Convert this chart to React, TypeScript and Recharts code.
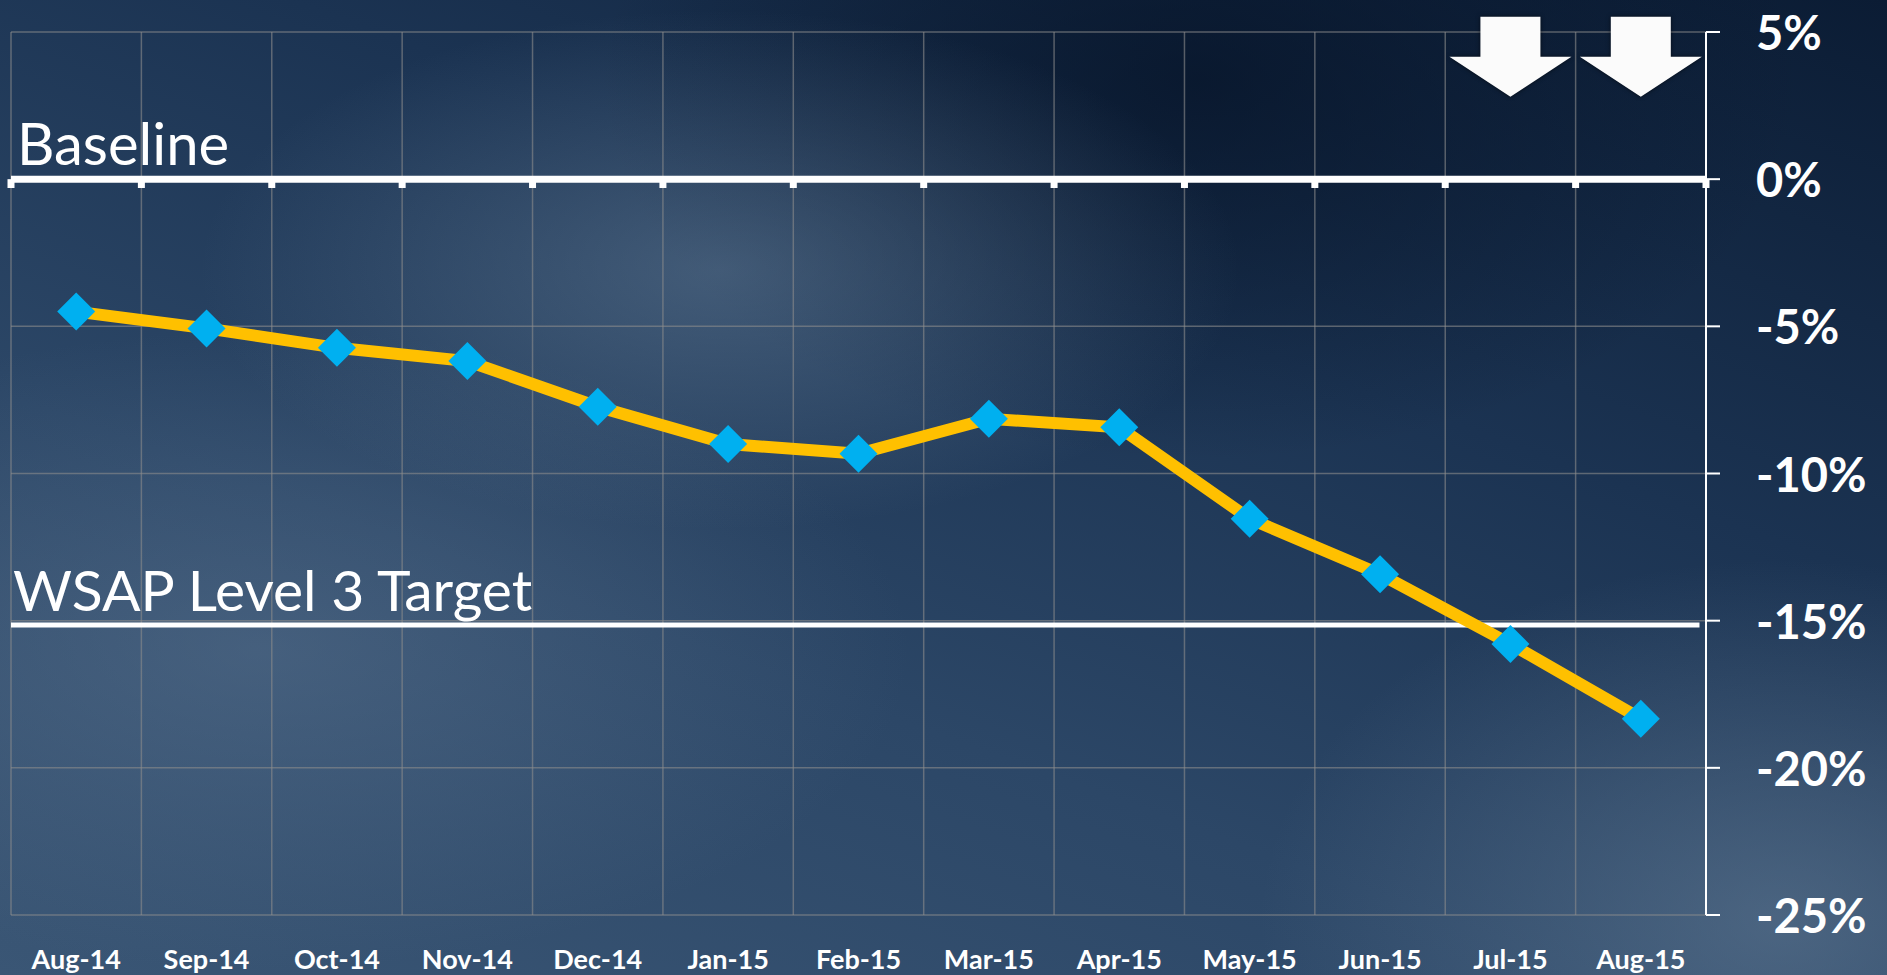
import { LineChart, Line, XAxis, YAxis, CartesianGrid, ReferenceLine, ReferenceDot } from "recharts";

const months = [
  "Aug-14", "Sep-14", "Oct-14", "Nov-14", "Dec-14", "Jan-15", "Feb-15",
  "Mar-15", "Apr-15", "May-15", "Jun-15", "Jul-15", "Aug-15",
];
const changePct = [-4.5, -5.07, -5.73, -6.18, -7.73, -9.0, -9.33, -8.14, -8.43, -11.54, -13.42, -15.79, -18.33];
const pctTicks = [-25, -20, -15, -10, -5, 0, 5];
const baselinePct = 0;
const targetPct = -15.15;
const arrowMonths = ["Jul-15", "Aug-15"];
const arrowTipPct = 2.8;

const data = months.map((m, i) => ({ idx: i, month: m, value: changePct[i] }));
const monthIdx = months.map((_, i) => i);
const boundaries = [...months.map((_, i) => i - 0.5), months.length - 0.5];

const FONT = "Lato, 'Open Sans', sans-serif";
const GRID = "rgba(140,140,140,0.6)";

function Diamond(props: any) {
  const { cx, cy, index } = props;
  if (cx == null || cy == null) return null;
  const r = 19;
  return (
    <polygon
      key={`d-${index}`}
      points={`${cx},${cy - r} ${cx + r},${cy} ${cx},${cy + r} ${cx - r},${cy}`}
      fill="#00B0F0"
    />
  );
}

function Arrow(props: any) {
  const { cx, cy } = props;
  if (cx == null || cy == null) return null;
  const head = 40, half = 61, shaft = 30, h = 80;
  const pts = [
    [cx, cy], [cx - half, cy - head], [cx - shaft, cy - head], [cx - shaft, cy - h],
    [cx + shaft, cy - h], [cx + shaft, cy - head], [cx + half, cy - head],
  ].map((p) => p.join(",")).join(" ");
  return <polygon points={pts} fill="#fbfbfb" style={{ filter: "drop-shadow(0 0 2px rgba(0,0,0,0.6))" }} />;
}

function MonthTick(props: any) {
  const { x, y, payload } = props;
  return (
    <text x={x} y={y + 43} textAnchor="middle" dominantBaseline="central"
      fill="#fff" fontFamily={FONT} fontWeight={700} fontSize={27}>
      {months[payload.value]}
    </text>
  );
}

function PctTick(props: any) {
  const { x, y, payload } = props;
  return (
    <text x={x} y={y} textAnchor="start" dominantBaseline="central"
      fill="#fff" fontFamily={FONT} fontWeight={700} fontSize={47}>
      {`${payload.value}%`}
    </text>
  );
}

function lineLabel(text: string, dx: number, size: number) {
  return (props: any) => {
    const vb = props.viewBox || {};
    return (
      <text x={(vb.x ?? 0) + dx} y={(vb.y ?? 0) - 14} fill="#fff"
        fontFamily={FONT} fontSize={size}>
        {text}
      </text>
    );
  };
}

export default function App() {
  return (
    <div
      style={{
        position: "fixed", left: 0, top: 0, width: 1887, height: 975, overflow: "hidden",
        background: [
          "radial-gradient(ellipse 520px 260px at 720px 270px, rgba(110,135,160,0.45), rgba(110,135,160,0) 100%)",
          "radial-gradient(ellipse 650px 320px at 260px 650px, rgba(95,120,148,0.45), rgba(95,120,148,0) 100%)",
          "radial-gradient(ellipse 520px 360px at 1780px 920px, rgba(110,135,160,0.5), rgba(110,135,160,0) 100%)",
          "radial-gradient(ellipse 600px 380px at 1200px 80px, rgba(5,18,38,0.7), rgba(5,18,38,0) 100%)",
          "linear-gradient(200deg, #0b1c34 0%, #1b3352 35%, #2c4767 65%, #3a5675 100%)",
        ].join(","),
      }}
    >
      <LineChart width={1887} height={975} data={data}
        margin={{ top: 32, right: 0, bottom: 0, left: 11 }}>
        <CartesianGrid vertical={false} stroke={GRID} strokeWidth={1.5} />
        <XAxis dataKey="idx" type="number" domain={[-0.5, months.length - 0.5]}
          ticks={monthIdx} interval={0} height={60} axisLine={false} tickLine={false}
          tickSize={0} tickMargin={0} tick={<MonthTick />} />
        <YAxis orientation="right" type="number" domain={[-25, 5]} ticks={pctTicks}
          width={181} axisLine={{ stroke: "#fff", strokeWidth: 2 }}
          tickLine={{ stroke: "#fff", strokeWidth: 2 }} tickSize={14} tickMargin={36}
          tick={<PctTick />} />
        {boundaries.slice(0, -1).map((b) => (
          <ReferenceLine key={`g${b}`} x={b} stroke={GRID} strokeWidth={1.5} />
        ))}
        <ReferenceLine y={baselinePct} stroke="#fff" strokeWidth={7}
          label={lineLabel("Baseline", 6, 58)} />
        {boundaries.map((b) => (
          <ReferenceLine key={`t${b}`} segment={[{ x: b, y: baselinePct }, { x: b, y: baselinePct - 0.3 }]}
            stroke="#fff" strokeWidth={7} />
        ))}
        <ReferenceLine segment={[{ x: -0.5, y: targetPct }, { x: months.length - 0.55, y: targetPct }]}
          stroke="#fff" strokeWidth={5} label={lineLabel("WSAP Level 3 Target", 2, 57)} />
        {arrowMonths.map((m) => (
          <ReferenceDot key={m} x={months.indexOf(m)} y={arrowTipPct} ifOverflow="visible"
            shape={(p: any) => <Arrow {...p} />} />
        ))}
        <Line dataKey="value" stroke="#FFC000" strokeWidth={12} dot={<Diamond />}
          activeDot={false} isAnimationActive={false} />
      </LineChart>
    </div>
  );
}
